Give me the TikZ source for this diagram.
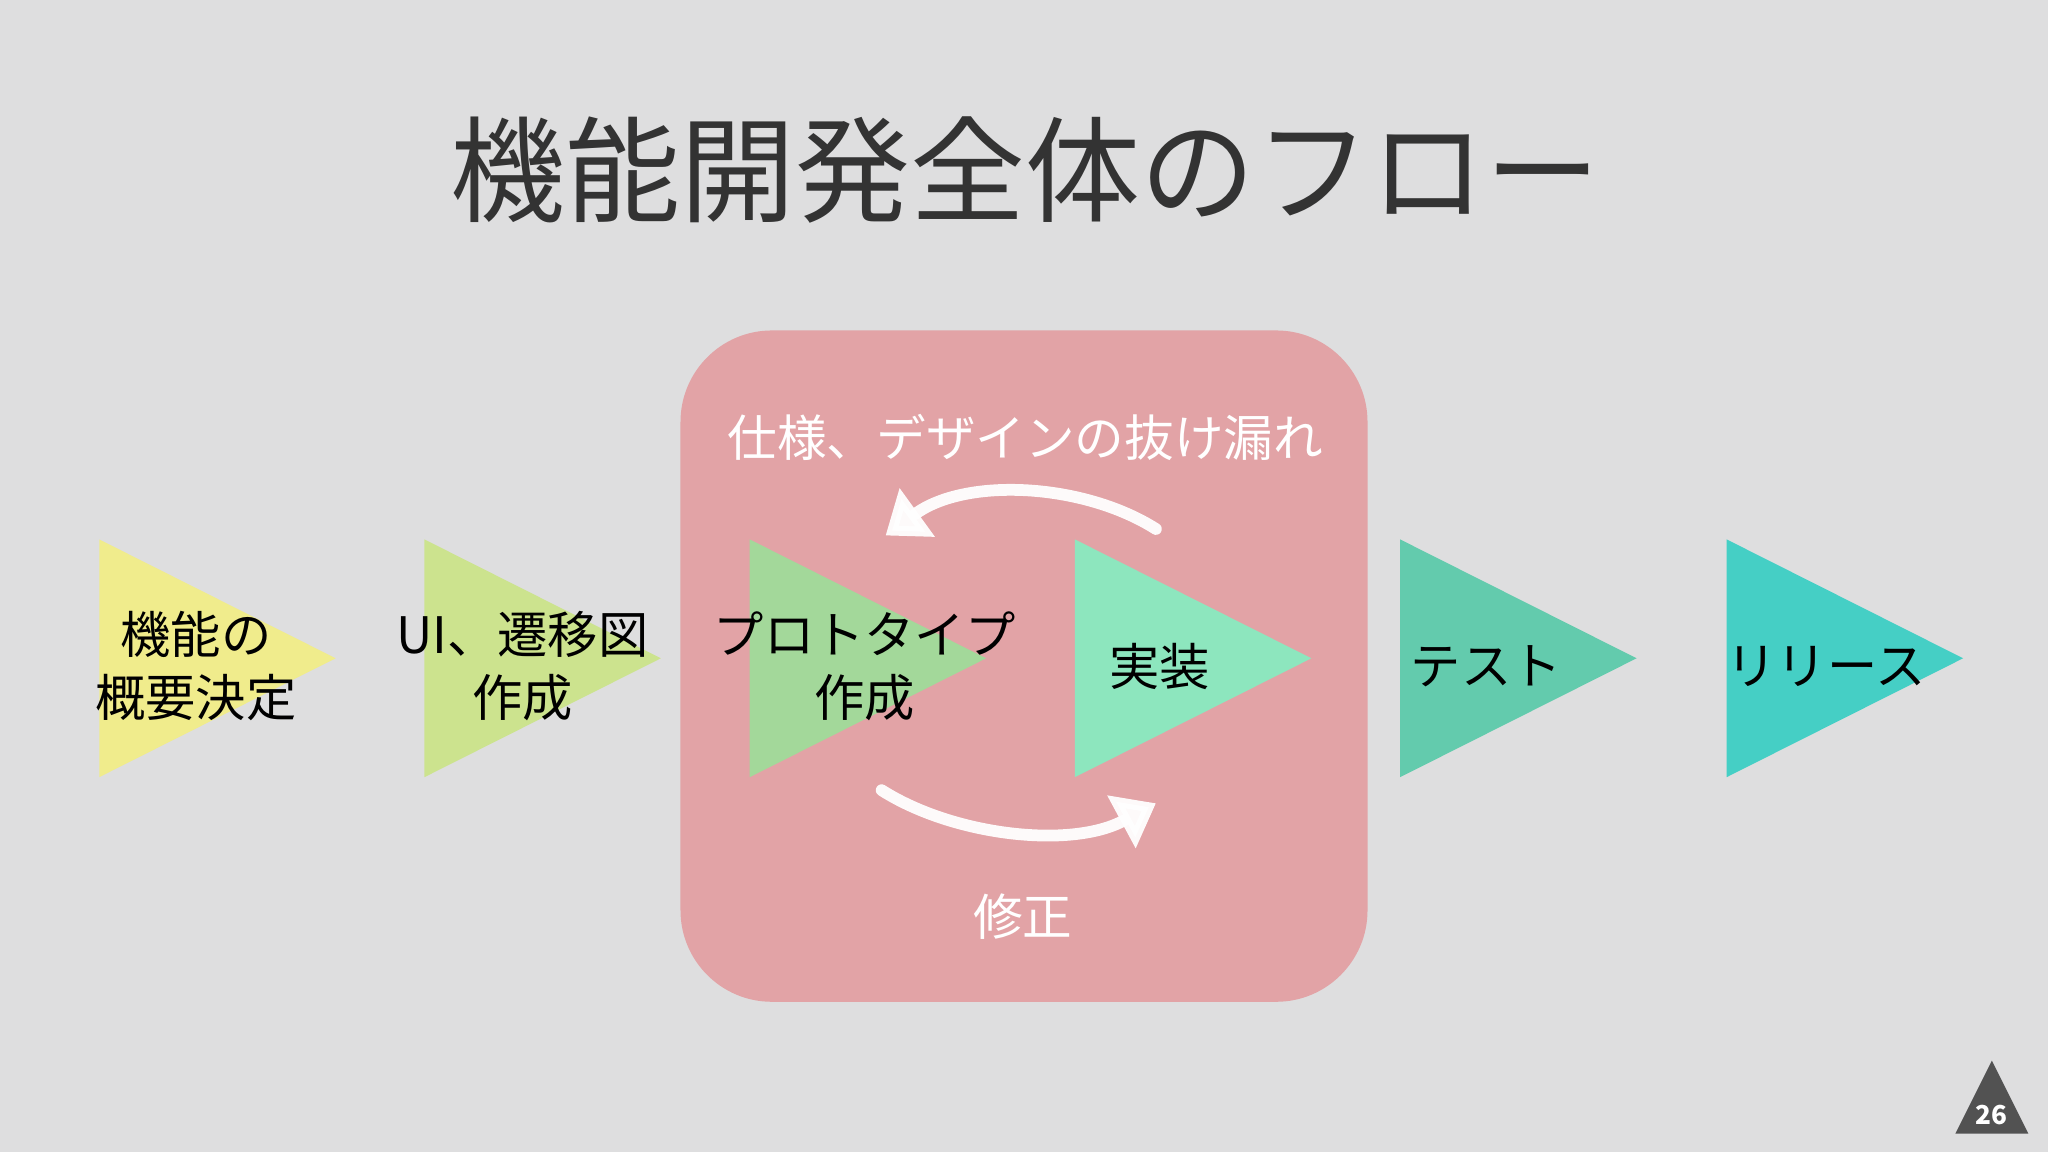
\documentclass[tikz,border=0pt]{standalone}
\usepackage{fontspec}
\setmainfont{Noto Sans CJK JP}
\usetikzlibrary{arrows.meta}
\definecolor{bg}{HTML}{DEDEDF}
\definecolor{pinkbox}{HTML}{E2A3A6}
\definecolor{c1}{HTML}{F0EC8C}
\definecolor{c2}{HTML}{CCE38E}
\definecolor{c3}{HTML}{A3D89A}
\definecolor{c4}{HTML}{8DE6BE}
\definecolor{c5}{HTML}{63CBAD}
\definecolor{c6}{HTML}{45CFC5}
\definecolor{ink}{HTML}{333333}
\tikzset{
 lbl/.style={font=\fontsize{38.5}{48}\selectfont, text=black, align=center},
 wlbl/.style={font=\fontsize{38}{46}\selectfont, text=white, align=center},
 chalk/.style={draw=white, line width=9pt, line cap=round, -{Triangle[length=30pt,width=44pt]}}
}
\begin{document}
\begin{tikzpicture}[x=1pt,y=-1pt]
\fill[bg] (0,0) rectangle (1568,882);
\useasboundingbox (0,0) rectangle (1568,882);
\node[font=\fontsize{88}{100}\selectfont, text=ink] (title) at (785,130) {機能開発全体のフロー};
\fill[pinkbox, rounded corners=70pt] (521,253) rectangle (1047,767);
\foreach \l/\c in {76/c1,325/c2,574/c3,823/c4,1072/c5,1322/c6}{
 \fill[\c] (\l,413) -- (\l+181,504) -- (\l,595) -- cycle;
}
\node[lbl] (t1) at (150,510) {機能の\\概要決定};
\node[lbl] (t2) at (400,510) {UI、遷移図\\作成};
\node[lbl] (t3) at (662,510) {プロトタイプ\\作成};
\node[lbl] (t4) at (888,510) {実装};
\node[lbl] (t5) at (1138,510) {テスト};
\node[lbl] (t6) at (1398,510) {リリース};
\node[wlbl] (miss) at (785,335) {仕様、デザインの抜け漏れ};
\node[wlbl] (fix) at (783,702) {修正};
\coordinate (a1) at (885,405);
\coordinate (a2) at (678,410);
\coordinate (b1) at (675,605);
\coordinate (b2) at (885,615);
\draw[chalk, opacity=0.95] (a1) .. controls (830,370) and (740,365) .. (a2);
\draw[chalk, opacity=0.95] (b1) .. controls (730,640) and (820,650) .. (b2);
\fill[ink!85] (1497,868) -- (1553,868) -- (1525,812) -- cycle;
\node[text=white, font=\bfseries\fontsize{20}{22}\selectfont] (pg) at (1525,854) {26};
\end{tikzpicture}
\end{document}
